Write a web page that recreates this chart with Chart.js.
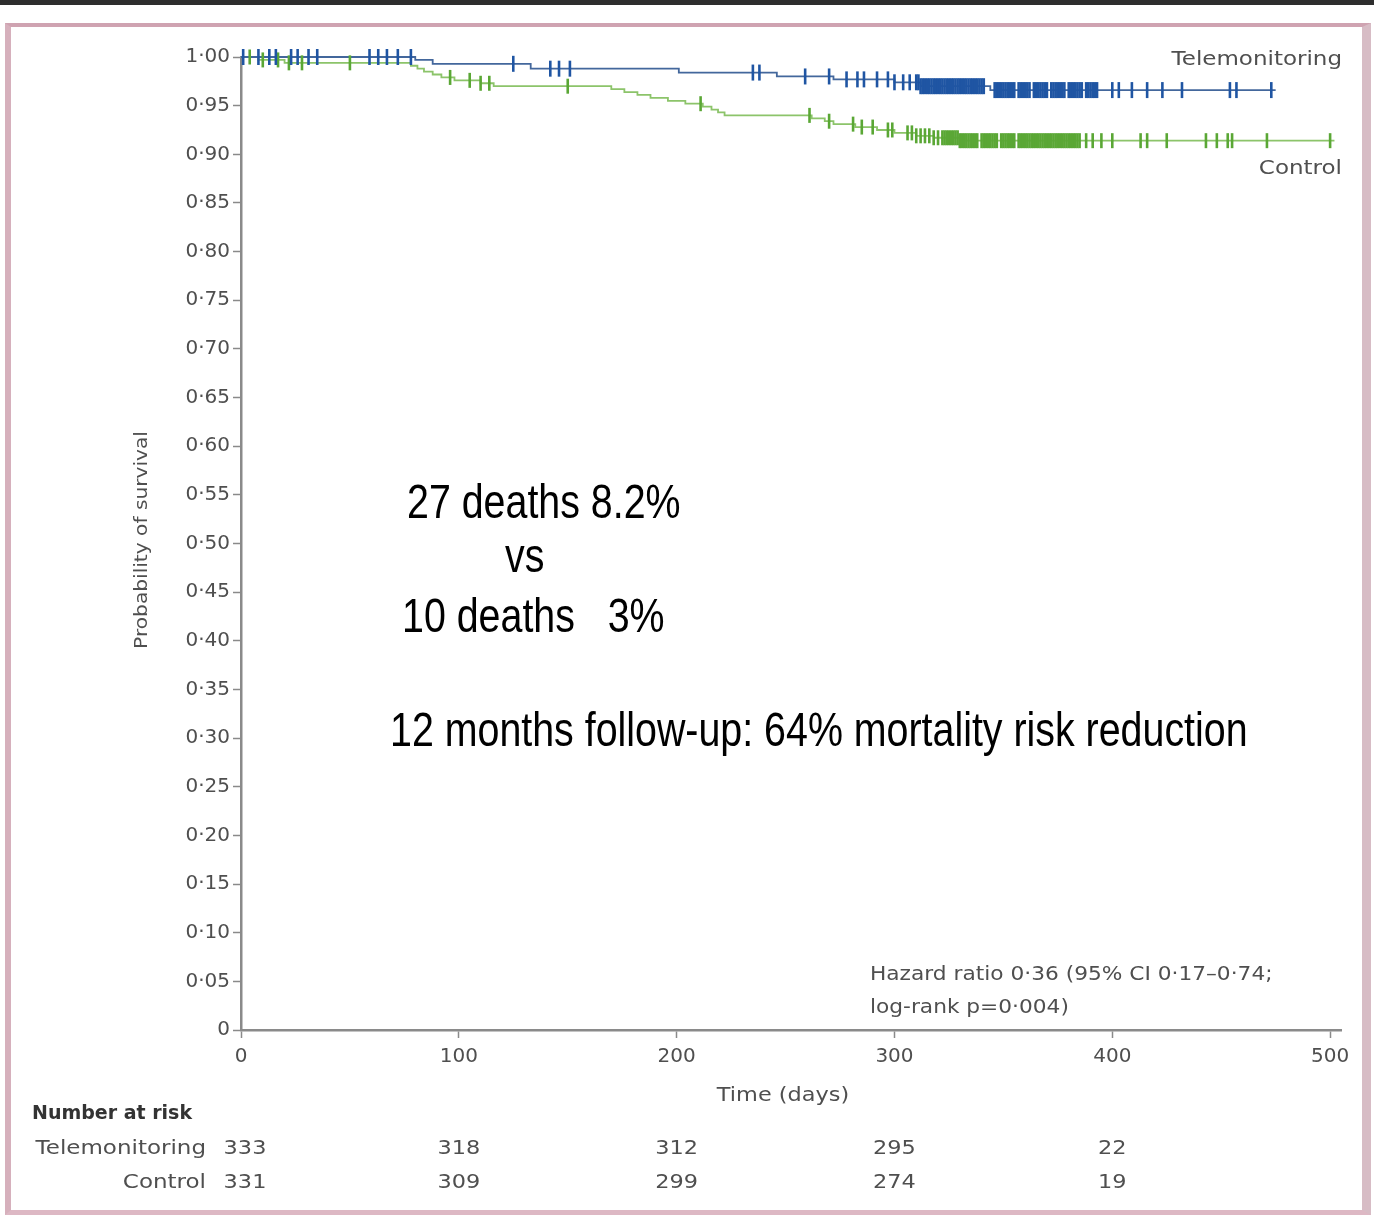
<!DOCTYPE html>
<html>
<head>
<meta charset="utf-8">
<script src="https://cdn.jsdelivr.net/npm/chart.js@4/dist/chart.umd.min.js"></script>
<style>
  html, body { margin: 0; padding: 0; background: #ffffff; }
  #stage { position: relative; width: 1374px; height: 1225px; overflow: hidden; background: #ffffff; }
  #topbar { position: absolute; left: 0; top: 0; width: 1374px; height: 5px; background: #2e2e2e; }
  #frame { position: absolute; left: 5px; top: 23px; width: 1351px; height: 1183px;
           border-top: 4px solid #cfa3b1; border-left: 6px solid #d6b0bc;
           border-bottom: 5px solid #ddb8c4; border-right: 9px solid #d7bcc5; box-sizing: content-box; }
  #km { position: absolute; left: 0; top: 0; }
</style>
</head>
<body>
<div id="stage">
  <div id="topbar"></div>
  <div id="frame"></div>
  <canvas id="km" width="1374" height="1225"></canvas>
</div>
<script>
// Kaplan-Meier survival: step change times (days) and survival after each step
const teleDays = [0, 80, 88, 133, 201, 246, 272, 300, 312, 344, 475];
const teleSurv = [1.000, 0.997, 0.993, 0.988, 0.984, 0.980, 0.977, 0.974, 0.970, 0.966, 0.966];

const controlDays = [0, 8, 20, 78, 81, 84, 88, 92, 98, 110, 116, 170, 176, 182, 188, 196, 204,
                     212, 216, 219, 222, 262, 268, 272, 282, 292, 300, 310, 318, 330, 502];
const controlSurv = [1.000, 0.997, 0.994, 0.991, 0.988, 0.985, 0.982, 0.979, 0.976, 0.973, 0.970,
                     0.967, 0.964, 0.961, 0.958, 0.955, 0.952, 0.949, 0.946, 0.943, 0.940, 0.937,
                     0.934, 0.931, 0.928, 0.925, 0.922, 0.919, 0.917, 0.914, 0.914];

// Censoring times (days)
const teleCensored = [1, 8, 13, 16, 23, 26, 31, 35, 59, 63, 67, 72, 78, 125, 142, 146, 151, 235, 238,
  259, 270, 278, 283, 286, 292, 297, 300, 304, 307,
  310, 311, 312, 313, 314, 315, 316, 317, 318, 319, 320, 321, 322, 323, 324, 325, 326, 327, 328,
  329, 330, 331, 332, 333, 334, 335, 336, 337, 338, 339, 340, 341,
  346, 347, 348, 349, 350, 351, 352, 353, 354, 355, 357, 358, 359, 360, 361, 362,
  364, 365, 366, 367, 368, 369, 370, 372, 373, 374, 375, 376, 377, 378,
  380, 381, 382, 383, 384, 385, 386, 388, 389, 390, 391, 392, 393,
  400, 403, 409, 416, 423, 432, 454, 457, 473];
const controlCensored = [4, 10, 17, 22, 28, 50, 96, 105, 110, 114, 150, 211, 261, 270, 281, 285, 290,
  297, 299, 306, 308, 310, 312, 314, 316, 318, 320, 322, 323, 324, 325, 326, 327, 328, 329, 330,
  331, 332, 333, 334, 335, 336, 337, 338, 340, 341, 342, 343, 344, 345, 346, 347,
  349, 350, 351, 352, 353, 354, 355, 357, 358, 359, 360, 361, 362, 363, 364, 365, 366, 367,
  368, 369, 370, 371, 372, 373, 374, 375, 376, 377, 378, 379, 380, 381, 382, 383, 384, 385,
  388, 391, 395, 400, 413, 416, 425, 443, 448, 453, 455, 471, 500];

// Axis ticks
const xTickValues = [0, 100, 200, 300, 400, 500];
const yTickValues = [0, 0.05, 0.10, 0.15, 0.20, 0.25, 0.30, 0.35, 0.40, 0.45, 0.50,
                     0.55, 0.60, 0.65, 0.70, 0.75, 0.80, 0.85, 0.90, 0.95, 1.00];
const yTickLabels = ['0', '0·05', '0·10', '0·15', '0·20', '0·25', '0·30', '0·35', '0·40', '0·45', '0·50',
                     '0·55', '0·60', '0·65', '0·70', '0·75', '0·80', '0·85', '0·90', '0·95', '1·00'];

// Number at risk table
const riskTimes = [0, 100, 200, 300, 400];
const teleAtRisk = [333, 318, 312, 295, 22];
const controlAtRisk = [331, 309, 299, 274, 19];

const SANS = '"DejaVu Sans", "Open Sans", sans-serif';
const WIDE = 1.15;                       // horizontal stretch for the small figure text
const NARROW = 0.82;                     // horizontal squeeze for the annotation text
const GREY = '#4f4f4f';
const BLUE_LINE = '#43679c';
const BLUE_MARK = '#1f55a3';
const GREEN_LINE = '#8cc46a';
const GREEN_MARK = '#5aa735';

function survAt(days, surv, t) {
  let s = surv[0];
  for (let i = 0; i < days.length; i++) { if (days[i] <= t) s = surv[i]; }
  return s;
}
const toPoints = (days, surv) => days.map((d, i) => ({ x: d, y: surv[i] }));
const censorPoints = (times, days, surv) => times.map(t => ({ x: t, y: survAt(days, surv, t) }));

function drawText(ctx, str, x, y, font, align, sx, angle) {
  ctx.save();
  ctx.translate(x, y);
  if (angle) ctx.rotate(angle);
  ctx.scale(sx, 1);
  ctx.font = font;
  ctx.textAlign = align;
  ctx.fillText(str, 0, 0);
  ctx.restore();
}

const textPlugin = {
  id: 'kmText',
  afterDraw(chart) {
    const ctx = chart.ctx;
    const xs = chart.scales.x;
    const small = '20px ' + SANS;
    ctx.save();
    ctx.fillStyle = GREY;
    ctx.textBaseline = 'alphabetic';

    // curve labels
    drawText(ctx, 'Telemonitoring', 1342, 65, small, 'right', WIDE);
    drawText(ctx, 'Control', 1342, 174, small, 'right', WIDE);

    // axis titles
    drawText(ctx, 'Time (days)', 783, 1101, small, 'center', 1.12);
    drawText(ctx, 'Probability of survival', 147, 540, '18px ' + SANS, 'center', 1.12, -Math.PI / 2);

    // statistics
    drawText(ctx, 'Hazard ratio 0·36 (95% CI 0·17–0·74;', 870, 980, small, 'left', 1.085);
    drawText(ctx, 'log-rank p=0·004)', 870, 1013, small, 'left', 1.085);

    // number at risk
    ctx.fillStyle = '#333333';
    drawText(ctx, 'Number at risk', 32, 1119, 'bold 19px ' + SANS, 'left', 1.0);
    ctx.fillStyle = GREY;
    drawText(ctx, 'Telemonitoring', 206, 1154, small, 'right', WIDE);
    drawText(ctx, 'Control', 206, 1188, small, 'right', WIDE);
    riskTimes.forEach((t, i) => {
      const px = xs.getPixelForValue(t) + (i === 0 ? 4 : 0);
      drawText(ctx, String(teleAtRisk[i]), px, 1154, small, 'center', 1.12);
      drawText(ctx, String(controlAtRisk[i]), px, 1188, small, 'center', 1.12);
    });

    // summary annotation
    ctx.fillStyle = '#000000';
    const big = '48px "Liberation Sans", Arial, sans-serif';
    drawText(ctx, '27 deaths 8.2%', 407, 518, big, 'left', NARROW);
    drawText(ctx, 'vs', 505, 572, big, 'left', NARROW);
    drawText(ctx, '10 deaths   3%', 402, 632, big, 'left', NARROW);
    drawText(ctx, '12 months follow-up: 64% mortality risk reduction', 390, 746, big, 'left', NARROW);
    ctx.restore();
  }
};

new Chart(document.getElementById('km'), {
  type: 'line',
  data: {
    datasets: [
      { label: 'Telemonitoring', data: toPoints(teleDays, teleSurv), stepped: 'before',
        borderColor: BLUE_LINE, borderWidth: 1.8, pointRadius: 0, fill: false, clip: 20, order: 2 },
      { label: 'Control', data: toPoints(controlDays, controlSurv), stepped: 'before',
        borderColor: GREEN_LINE, borderWidth: 1.8, pointRadius: 0, fill: false, clip: 20, order: 3 },
      { label: 'Telemonitoring censored', data: censorPoints(teleCensored, teleDays, teleSurv),
        showLine: false, pointStyle: 'line', rotation: 90, pointRadius: 8, pointBorderWidth: 2.6,
        pointBorderColor: BLUE_MARK, clip: 20, order: 0 },
      { label: 'Control censored', data: censorPoints(controlCensored, controlDays, controlSurv),
        showLine: false, pointStyle: 'line', rotation: 90, pointRadius: 7.5, pointBorderWidth: 2.6,
        pointBorderColor: GREEN_MARK, clip: 20, order: 1 }
    ]
  },
  options: {
    responsive: false,
    animation: false,
    events: [],
    layout: { padding: { left: 0, top: 57, right: 33, bottom: 0 } },
    plugins: { legend: { display: false }, tooltip: { enabled: false } },
    scales: {
      x: {
        type: 'linear', min: 0, max: 505,
        afterBuildTicks: s => { s.ticks = xTickValues.map(v => ({ value: v })); },
        afterFit: s => { s.height = 195; },
        grid: { drawOnChartArea: false, tickLength: 8, tickColor: '#8a8a8a', tickWidth: 1.5 },
        border: { color: '#8a8a8a', width: 2.5 },
        ticks: { font: { family: SANS, size: 20 }, color: GREY, padding: 7, maxRotation: 0,
                 autoSkip: false, callback: v => String(v) }
      },
      y: {
        type: 'linear', min: 0, max: 1,
        afterBuildTicks: s => { s.ticks = yTickValues.map(v => ({ value: v })); },
        afterFit: s => { s.width = 241; },
        grid: { drawOnChartArea: false, tickLength: 8, tickColor: '#8a8a8a', tickWidth: 1.5 },
        border: { color: '#8a8a8a', width: 2.5 },
        ticks: { font: { family: SANS, size: 20 }, color: GREY, padding: 3, autoSkip: false,
                 callback: (v, i) => yTickLabels[i] }
      }
    }
  },
  plugins: [textPlugin]
});
</script>
</body>
</html>
